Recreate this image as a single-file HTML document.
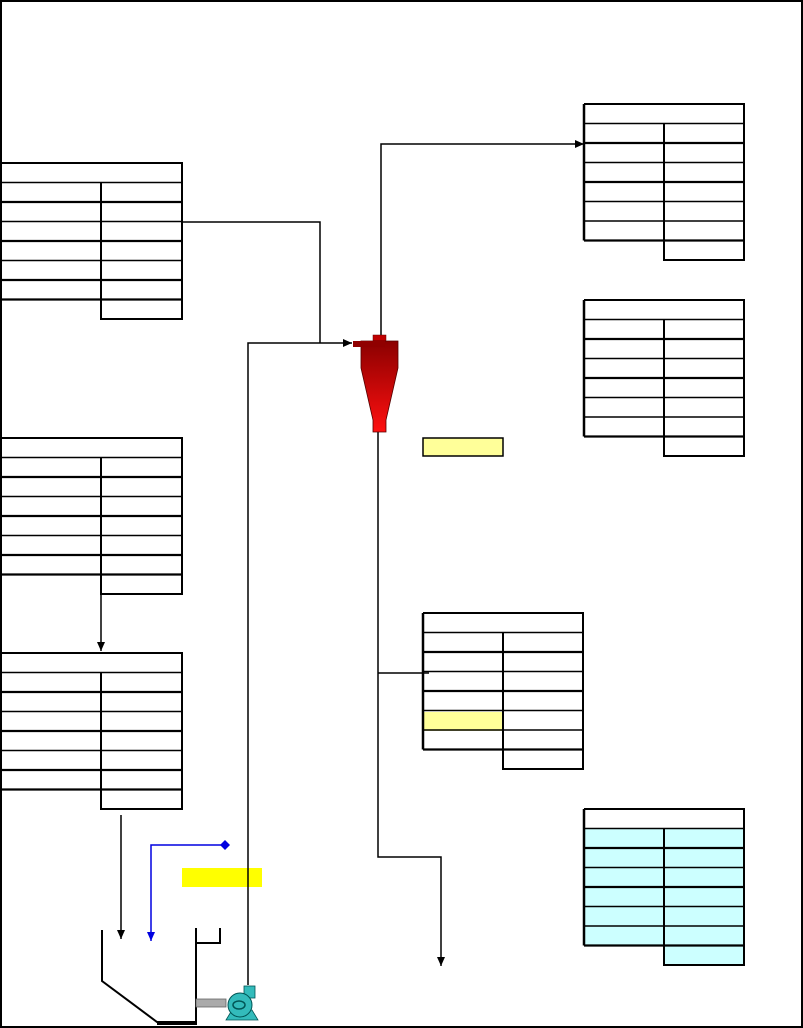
<!DOCTYPE html>
<html><head><meta charset="utf-8"><style>
html,body{margin:0;padding:0;background:#fff;}
svg{display:block;}
</style></head><body>
<svg width="803" height="1028" viewBox="0 0 803 1028" xmlns="http://www.w3.org/2000/svg">
<defs>
<g id="tA" stroke="#000" fill="none">
<path d="M0,0 H182 V156 H101 V19.5" stroke-width="2"/>
<path d="M0,0 V136.5" stroke-width="2.5"/>
<path d="M0,19.5 H182 M0,58.5 H182 M0,97.5 H182" stroke-width="1.5"/>
<path d="M0,39 H182 M0,78 H182 M0,117 H182 M0,136.5 H182" stroke-width="2.2"/>
</g>
<g id="tB" stroke="#000" fill="none">
<path d="M0,0 H160 V156 H80 V19.5" stroke-width="2"/>
<path d="M0,0 V136.5" stroke-width="2.5"/>
<path d="M0,19.5 H160 M0,58.5 H160 M0,97.5 H160 M0,117 H160" stroke-width="1.5"/>
<path d="M0,39 H160 M0,78 H160 M0,136.5 H160" stroke-width="2.2"/>
</g>
<linearGradient id="cg" x1="0" y1="0" x2="0" y2="1">
<stop offset="0" stop-color="#8b0000"/><stop offset="1" stop-color="#ff1010"/>
</linearGradient>
<marker id="ar" markerWidth="10" markerHeight="10" refX="9" refY="5" orient="auto" markerUnits="userSpaceOnUse">
<path d="M0,1 L9,5 L0,9 Z" fill="#000"/></marker>
<marker id="ab" markerWidth="10" markerHeight="10" refX="9" refY="5" orient="auto" markerUnits="userSpaceOnUse">
<path d="M0,1 L9,5 L0,9 Z" fill="#0000e0"/></marker>
</defs>
<rect x="1" y="1" width="801" height="1026" fill="none" stroke="#000" stroke-width="2"/>

<!-- fills -->
<rect x="424" y="712" width="79" height="19" fill="#ffff99"/>
<rect x="585" y="829" width="159" height="117" fill="#ccffff"/>
<rect x="664" y="946" width="80" height="19" fill="#ccffff"/>
<rect x="423" y="438" width="80" height="18" fill="#ffff99" stroke="#000" stroke-width="1.5"/>
<rect x="182" y="868" width="80" height="19" fill="#ffff00"/>

<use href="#tA" x="0" y="163"/>
<use href="#tA" x="0" y="438"/>
<use href="#tA" x="0" y="653"/>
<use href="#tB" x="584" y="104"/>
<use href="#tB" x="584" y="300"/>
<use href="#tB" x="423" y="613"/>
<use href="#tB" x="584" y="809"/>

<g stroke="#000" stroke-width="1.5" fill="none">
<path d="M182,222 H320 V343"/>
<path d="M248,985 V343 H352" marker-end="url(#ar)"/>
<path d="M381,335 V144 H584" marker-end="url(#ar)"/>
<path d="M378,432 V857 H441 V966" marker-end="url(#ar)"/>
<path d="M378,673 H429"/>
<path d="M101,594 V651" marker-end="url(#ar)"/>
<path d="M121,815 V939" marker-end="url(#ar)"/>
<path d="M102,930 V981 L157,1022 H196 M196,928 V1025 M196,943 H220 V928" stroke-width="2"/>
<path d="M157,1023 H196" stroke-width="4"/>
</g>
<path d="M225,845 H151 V941" stroke="#0000e0" stroke-width="1.5" fill="none" marker-end="url(#ab)"/>
<path d="M225,840 L230,845 L225,850 L220,845 Z" fill="#0000e0"/>

<!-- cyclone -->
<rect x="373" y="335" width="13" height="6" fill="#c00000" stroke="#600" stroke-width="0.5"/>
<path d="M361,341 H398 V368 L386,420 V432 H373 V420 L361,368 Z" fill="url(#cg)" stroke="#500" stroke-width="0.8"/>
<rect x="353" y="341" width="32" height="6" fill="#900000"/>

<!-- pump -->
<rect x="196" y="999" width="30" height="8" fill="#aaa" stroke="#666" stroke-width="0.8"/>
<path d="M226,1020 L232,1010 H252 L258,1020 Z" fill="#33bbbb" stroke="#055" stroke-width="0.8"/>
<rect x="244" y="986" width="11" height="12" fill="#33bbbb" stroke="#055" stroke-width="0.8"/>
<circle cx="240" cy="1005" r="12" fill="#33bbbb" stroke="#055" stroke-width="1"/>
<ellipse cx="239" cy="1005" rx="6" ry="4" fill="none" stroke="#055" stroke-width="1.5"/>
</svg>
</body></html>
